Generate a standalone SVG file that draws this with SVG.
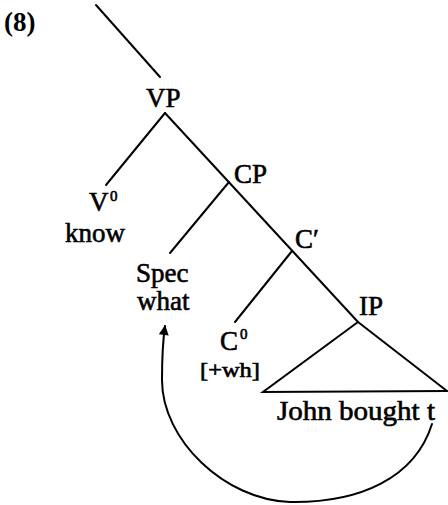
<svg xmlns="http://www.w3.org/2000/svg" width="448" height="505" viewBox="0 0 448 505">
<defs>
<style>
text{font-family:"Liberation Serif","Times New Roman",serif;fill:#000;stroke:#000;stroke-width:0.6}
.n{font-size:27px}
.sup{font-size:15px}
.sm{font-size:20px}
.lbl{font-size:27px;font-weight:bold}
.e{stroke:#000;stroke-width:2;fill:none;stroke-linecap:round}
</style>
<marker id="ah" viewBox="0 0 10 10" refX="9" refY="5" markerWidth="11" markerHeight="10" markerUnits="userSpaceOnUse" orient="auto">
<path d="M0,0 L10,5 L0,10 Z" fill="#000"/>
</marker>
</defs>
<rect width="448" height="505" fill="#fff"/>
<text class="lbl" x="4" y="31" style="stroke:none">(8)</text>
<g id="connectors">
<line class="e" x1="96" y1="5" x2="160" y2="77"/>
<line class="e" x1="165" y1="113" x2="106" y2="185"/>
<line class="e" x1="165" y1="113" x2="358" y2="322"/>
<line class="e" x1="229" y1="182" x2="170" y2="253"/>
<line class="e" x1="292" y1="251" x2="235" y2="322"/>
<path class="e" d="M432,424 C415,478 360,503 290,502 C225,500 162,440 162,380 C162,355 163,340 165,326" stroke-width="2.5" marker-end="url(#ah)"/>
</g>
<g id="VP"><text class="n" x="146" y="107">VP</text></g>
<g id="V0"><text class="n" x="89" y="211">V</text><text class="sup" x="110" y="201">0</text><text class="n" x="65" y="242">know</text></g>
<g id="CP"><text class="n" x="234" y="183">CP</text></g>
<g id="Spec"><text class="n" x="136" y="282">Spec</text><text class="n" x="137" y="310">what</text></g>
<g id="Cbar"><text class="n" x="295" y="248">C′</text></g>
<g id="C0"><text class="n" x="220" y="350">C</text><text class="sup" x="240" y="339">0</text><text class="sm" x="200" y="377" textLength="60" lengthAdjust="spacingAndGlyphs">[+wh]</text></g>
<g id="IP"><text class="n" x="359" y="315">IP</text>
<path class="e" d="M358,322 L263,392 L447,391"/>
<line class="e" x1="358" y1="322" x2="447" y2="391"/>
</g>
<g id="John"><text class="n" x="277" y="420" textLength="158" lengthAdjust="spacingAndGlyphs">John bought t</text></g>
</svg>
